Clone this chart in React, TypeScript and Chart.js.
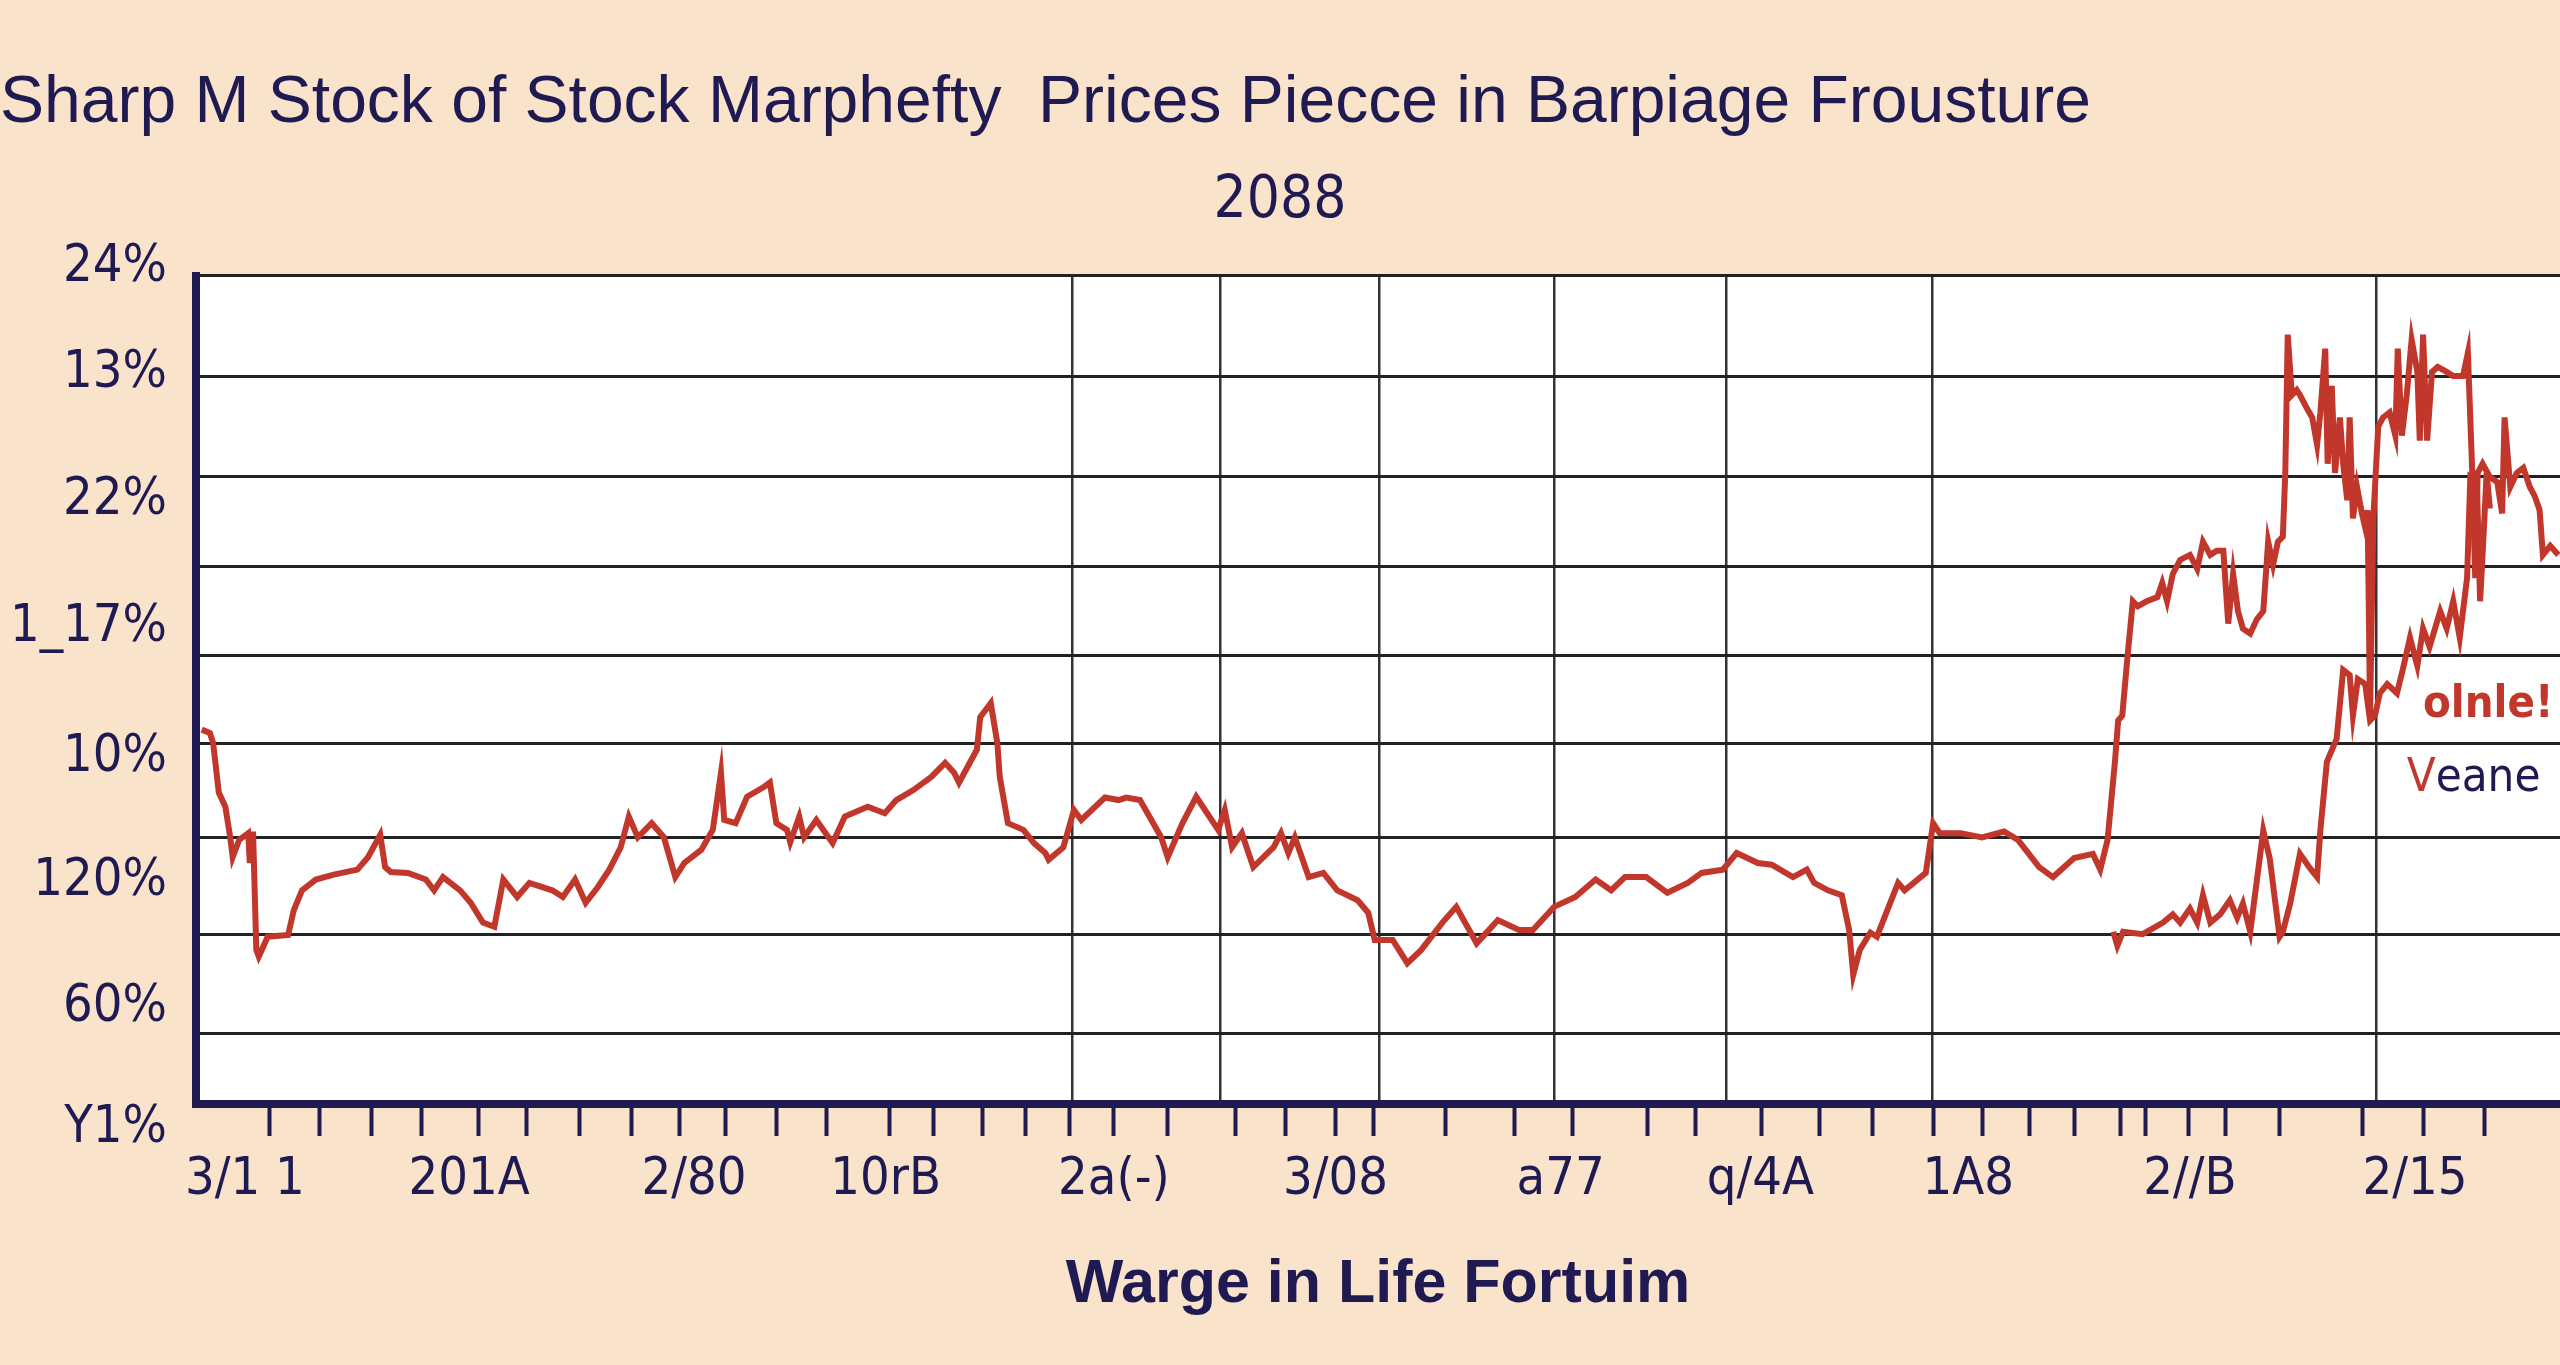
import React, { useEffect, useRef } from "react";
import { Chart, registerables } from "chart.js";

Chart.register(...registerables);

// ---------- text ----------
const TITLE = "Sharp M Stock of Stock Marphefty  Prices Piecce in Barpiage Frousture";
const SUBTITLE = "2088";
const X_TITLE = "Warge in Life Fortuim";

// ---------- y axis ----------
const Y_LABELS = ["24%", "13%", "22%", "1_17%", "10%", "120%", "60%", "Y1%"];
const Y_LABEL_VALUES = [101.0, 88.2, 72.9, 57.5, 41.8, 26.9, 11.6, -2.9];
const Y_GRID_VALUES = [100, 87.8, 75.8, 64.9, 54.2, 43.5, 32.2, 20.5, 8.5];

// ---------- x axis ----------
const X_LABELS = ["3/1 1", "201A", "2/80", "10rB", "2a(-)", "3/08", "a77", "q/4A", "1A8", "2//B", "2/15"];
const X_LABEL_DAYS = [6.0, 33.5, 61.1, 84.6, 112.6, 139.8, 167.4, 191.9, 217.4, 244.6, 272.2];
const X_TICK_DAYS = [
  9.0, 15.2, 21.5, 27.7, 34.6, 40.5, 47.0, 53.4, 59.3, 64.9,
  71.2, 77.3, 85.1, 90.5, 96.5, 101.8, 107.1, 112.6, 119.2, 127.5,
  133.7, 139.8, 144.4, 153.3, 161.8, 168.8, 178.1, 184.0, 192.1, 199.2,
  205.7, 213.2, 219.2, 224.9, 230.5, 236.1, 239.2, 244.4, 249.0, 255.6,
  265.8, 273.3, 280.7,
];
const X_GRID_DAYS = [107.5, 125.6, 145.2, 166.6, 187.7, 213.0, 267.4];
const X_MIN = 0;
const X_MAX = 290;

// ---------- series: price (main line) ----------
const MAIN_DAYS = [
  0.7, 1.7, 2.1, 2.8, 3.6, 4.2, 4.5, 5.3, 6.4, 6.6,
  7.0, 7.4, 7.7, 8.8, 11.3, 12.0, 13.0, 14.7, 16.9, 19.8,
  21.1, 22.6, 23.2, 23.9, 26.0, 28.2, 29.2, 30.3, 32.4, 33.7,
  35.2, 36.6, 37.7, 39.4, 40.9, 43.7, 45.0, 46.5, 47.8, 49.3,
  50.7, 52.1, 53.1, 54.2, 55.9, 57.4, 58.8, 59.9, 62.0, 63.4,
  64.4, 64.8, 66.2, 67.6, 69.7, 70.4, 71.2, 72.5, 72.9, 74.0,
  74.6, 76.1, 78.1, 79.6, 82.4, 84.5, 85.9, 88.0, 90.2, 91.9,
  93.0, 93.6, 95.8, 96.2, 97.5, 98.3, 98.6, 99.6, 101.5, 102.8,
  104.2, 104.6, 106.4, 107.7, 108.6, 111.5, 113.2, 114.1, 115.8, 118.4,
  119.2, 121.0, 122.7, 125.4, 126.2, 127.1, 128.3, 129.7, 132.2, 133.1,
  134.0, 134.8, 136.5, 138.3, 140.0, 142.5, 143.8, 144.6, 146.8, 148.6,
  150.3, 152.9, 154.6, 157.1, 159.7, 162.3, 164.0, 166.6, 169.2, 171.7,
  173.6, 175.3, 177.9, 180.5, 183.0, 184.7, 187.3, 189.0, 191.6, 193.3,
  195.9, 197.6, 198.5, 200.2, 201.9, 202.8, 203.3, 204.1, 205.4, 206.2,
  208.8, 209.6, 212.2, 213.1, 213.9, 216.5, 219.1, 221.8, 223.5, 226.1,
  227.8, 230.4, 232.7, 233.6, 234.5, 235.4, 235.8, 236.3, 237.0, 237.6,
  238.2, 239.3, 240.6, 241.2, 241.8, 242.5, 243.4, 244.6, 245.5, 246.2,
  247.1, 247.9, 248.7, 249.3, 249.9, 250.5, 251.1, 252.0, 252.8, 253.6,
  254.2, 254.8, 255.4, 256.0, 256.3, 256.6, 257.1, 257.7, 258.1, 259.0,
  259.6, 260.2, 260.6, 261.2, 261.5, 262.0, 262.4, 263.0, 263.4, 263.9,
  264.2, 264.6, 265.1, 265.7, 266.1, 266.4, 266.7, 267.1, 267.7, 268.3,
  269.1, 269.8, 270.1, 270.6, 271.2, 271.8, 272.5, 272.8, 273.2, 273.7,
  274.3, 275.0, 276.1, 276.9, 278.1, 278.7, 279.2, 279.6, 279.9, 280.5,
  281.4, 282.3, 282.9, 283.2, 283.9, 284.7, 285.5, 286.3, 286.9, 287.5,
  287.9, 288.8, 289.8,
];
const MAIN_VALUES = [
  45.2, 44.8, 43.6, 37.6, 35.9, 32.2, 29.8, 31.9, 32.7, 29.1,
  32.9, 18.6, 17.8, 20.2, 20.4, 23.4, 25.8, 27.1, 27.7, 28.3,
  29.8, 32.5, 28.6, 28.0, 27.9, 27.1, 25.8, 27.4, 25.8, 24.3,
  21.9, 21.4, 27.1, 25.0, 26.7, 25.8, 25.0, 27.1, 24.3, 26.2,
  28.3, 31.0, 34.7, 32.2, 33.9, 32.2, 27.4, 29.1, 30.7, 33.1,
  40.0, 34.3, 33.9, 37.1, 38.3, 38.8, 33.9, 33.1, 31.6, 34.7,
  32.2, 34.3, 31.5, 34.7, 35.9, 35.1, 36.7, 37.9, 39.5, 41.2,
  40.0, 38.8, 42.8, 46.7, 48.4, 43.6, 39.5, 33.9, 33.1, 31.5,
  30.3, 29.5, 31.0, 35.5, 34.3, 37.0, 36.7, 37.0, 36.7, 32.2,
  29.8, 33.9, 37.1, 33.1, 35.5, 31.0, 32.7, 28.6, 31.0, 32.7,
  30.3, 32.2, 27.4, 27.9, 25.8, 24.6, 23.1, 19.8, 19.8, 17.0,
  18.6, 21.9, 23.8, 19.4, 22.2, 21.0, 21.0, 23.8, 25.0, 27.1,
  25.8, 27.4, 27.4, 25.5, 26.7, 27.9, 28.3, 30.3, 29.1, 28.9,
  27.4, 28.3, 26.7, 25.8, 25.2, 21.0, 15.6, 18.6, 20.7, 20.2,
  26.7, 25.8, 27.9, 33.9, 32.7, 32.7, 32.2, 32.9, 31.9, 28.6,
  27.4, 29.7, 30.2, 28.3, 31.9, 41.3, 46.3, 46.9, 54.6, 60.7,
  60.1, 60.7, 61.2, 62.9, 60.7, 64.0, 65.7, 66.3, 64.6, 67.9,
  66.3, 66.8, 66.8, 58.0, 64.0, 59.5, 57.4, 56.8, 58.5, 59.5,
  67.9, 65.1, 67.9, 68.5, 76.2, 92.9, 85.6, 86.2, 85.6, 83.9,
  82.9, 79.6, 83.5, 91.2, 77.3, 86.7, 76.2, 82.9, 77.3, 72.9,
  82.9, 70.7, 74.5, 71.3, 69.6, 71.7, 46.9, 70.7, 81.8, 82.9,
  83.5, 80.7, 91.2, 80.7, 85.6, 92.3, 88.4, 80.1, 92.9, 80.1,
  88.4, 89.0, 88.4, 87.9, 87.9, 90.7, 77.3, 63.5, 76.2, 77.3,
  75.7, 75.1, 71.3, 82.9, 74.5, 76.2, 76.8, 74.5, 73.4, 71.7,
  66.3, 67.4, 66.3,
];

// ---------- series: volume (lower line) ----------
const LOWER_DAYS = [
  235.2, 235.7, 236.4, 238.8, 241.3, 242.5, 243.4, 244.6, 245.5, 246.2,
  247.1, 248.3, 249.5, 250.4, 251.1, 252.0, 253.6, 254.4, 255.6, 256.0,
  256.9, 258.1, 259.3, 260.2, 260.6, 261.4, 262.6, 263.4, 264.2, 264.6,
  265.2, 266.1, 266.7, 267.3, 267.9, 268.8, 270.0, 270.7, 271.6, 272.5,
  273.2, 274.0, 275.3, 276.1, 276.9, 277.7, 278.6, 279.0, 279.8, 280.2,
  280.5, 281.0, 281.4,
];
const LOWER_VALUES = [
  20.8, 19.1, 20.8, 20.5, 21.9, 22.9, 21.9, 23.6, 21.9, 25.2,
  21.9, 22.9, 24.6, 22.5, 24.2, 20.8, 33.0, 29.6, 20.2, 20.8,
  24.2, 30.2, 28.5, 27.4, 33.0, 41.3, 44.1, 52.4, 51.8, 46.9,
  51.3, 50.7, 46.3, 46.9, 49.6, 50.7, 49.6, 52.4, 56.3, 52.9,
  57.4, 55.2, 59.5, 57.4, 60.7, 56.3, 63.5, 75.7, 75.1, 60.7,
  66.3, 76.2, 71.9,
];

// ---------- styling ----------
const NAVY = "#201a52";
const RED = "#c2372c";
const BG = "#f9e3cb";
const NARROW = "'DejaVu Sans Condensed', 'Liberation Sans', sans-serif";
const SANS = "'Liberation Sans', Arial, sans-serif";

const LEGEND_ITEMS = [
  { day: 273.2, value: 48.1, font: `bold 45px ${NARROW}`, parts: [{ text: "olnle!", color: RED }] },
  {
    day: 271.2,
    value: 39.3,
    font: `47px ${NARROW}`,
    parts: [
      { text: "V", color: RED },
      { text: "eane", color: NAVY },
    ],
  },
];

const backgroundPlugin = {
  id: "plotBackground",
  beforeDraw(chart: any) {
    const { ctx, chartArea, width, height } = chart;
    ctx.save();
    ctx.fillStyle = BG;
    ctx.fillRect(0, 0, width, height);
    ctx.fillStyle = "#ffffff";
    ctx.fillRect(chartArea.left, chartArea.top, chartArea.right - chartArea.left, chartArea.bottom - chartArea.top);
    ctx.restore();
  },
};

const inlineLegendPlugin = {
  id: "inlineLegend",
  afterDatasetsDraw(chart: any) {
    const { ctx, scales } = chart;
    const xs = scales.x;
    const ys = scales.y;
    ctx.save();
    ctx.textBaseline = "middle";
    ctx.textAlign = "left";
    for (const item of LEGEND_ITEMS) {
      let px = xs.getPixelForValue(item.day);
      const py = ys.getPixelForValue(item.value);
      ctx.font = item.font;
      for (const part of item.parts) {
        ctx.fillStyle = part.color;
        ctx.fillText(part.text, px, py);
        px += ctx.measureText(part.text).width;
      }
    }
    ctx.restore();
  },
};

export default function App() {
  const canvasRef = useRef<HTMLCanvasElement | null>(null);

  useEffect(() => {
    document.body.style.margin = "0";
    document.body.style.background = BG;
    document.body.style.overflow = "hidden";
    const canvas = canvasRef.current;
    if (!canvas) return;

    const chart = new Chart(canvas, {
      type: "line",
      data: {
        datasets: [
          {
            label: "Price",
            data: MAIN_DAYS.map((d, i) => ({ x: d, y: MAIN_VALUES[i] })),
            borderColor: RED,
            backgroundColor: RED,
            borderWidth: 6,
            pointRadius: 0,
            tension: 0,
            xAxisID: "x",
            yAxisID: "y",
          },
          {
            label: "Volume",
            data: LOWER_DAYS.map((d, i) => ({ x: d, y: LOWER_VALUES[i] })),
            borderColor: RED,
            backgroundColor: RED,
            borderWidth: 6,
            pointRadius: 0,
            tension: 0,
            xAxisID: "x",
            yAxisID: "y",
          },
        ],
      },
      options: {
        responsive: false,
        animation: false,
        devicePixelRatio: 1,
        layout: { padding: 0 },
        plugins: {
          legend: { display: false },
          tooltip: { enabled: false },
          title: {
            display: true,
            text: TITLE,
            align: "start",
            color: NAVY,
            font: { family: SANS, size: 66, weight: "normal", lineHeight: 1.2 },
            padding: { top: 64, bottom: 0 },
          },
          subtitle: {
            display: true,
            text: SUBTITLE,
            align: "center",
            color: NAVY,
            font: { family: NARROW, size: 58, weight: "normal", lineHeight: 1.2 },
            padding: { top: 24, bottom: 39 },
          },
        },
        scales: {
          // axis line + tick marks
          x: {
            type: "linear",
            position: "bottom",
            min: X_MIN,
            max: X_MAX,
            weight: 0,
            afterBuildTicks: (s: any) => {
              s.ticks = X_TICK_DAYS.map((v) => ({ value: v }));
            },
            afterFit: (s: any) => {
              s.height = 0;
            },
            grid: {
              display: true,
              drawOnChartArea: false,
              drawTicks: true,
              tickLength: 32,
              tickWidth: 4,
              tickColor: NAVY,
              color: NAVY,
            },
            border: { display: true, color: NAVY, width: 8 },
            ticks: { display: false },
          },
          // vertical grid lines
          xg: {
            type: "linear",
            position: "bottom",
            min: X_MIN,
            max: X_MAX,
            weight: 0,
            afterBuildTicks: (s: any) => {
              s.ticks = X_GRID_DAYS.map((v) => ({ value: v }));
            },
            afterFit: (s: any) => {
              s.height = 0;
            },
            grid: { display: true, drawOnChartArea: true, drawTicks: false, color: "#333333", lineWidth: 2.5 },
            border: { display: false },
            ticks: { display: false },
          },
          // tick labels + axis title
          xl: {
            type: "linear",
            position: "bottom",
            min: X_MIN,
            max: X_MAX,
            weight: 10,
            afterBuildTicks: (s: any) => {
              s.ticks = X_LABEL_DAYS.map((v) => ({ value: v }));
            },
            afterFit: (s: any) => {
              s.height = 261;
            },
            grid: { display: false, drawTicks: false },
            border: { display: false },
            ticks: {
              autoSkip: false,
              maxRotation: 0,
              minRotation: 0,
              padding: 45,
              color: NAVY,
              font: { family: NARROW, size: 52, lineHeight: 1.2 },
              callback: (_v: any, i: number) => X_LABELS[i],
            },
            title: {
              display: true,
              text: X_TITLE,
              color: NAVY,
              font: { family: SANS, size: 61, weight: "bold", lineHeight: 1.2 },
              padding: { top: 0, bottom: 43 },
            },
          },
          // y labels + axis line
          y: {
            type: "linear",
            position: "left",
            min: 0,
            max: 100,
            weight: 1,
            afterBuildTicks: (s: any) => {
              s.ticks = Y_LABEL_VALUES.map((v) => ({ value: v }));
            },
            afterFit: (s: any) => {
              s.width = 196;
            },
            grid: { display: false, drawTicks: false },
            border: { display: true, color: NAVY, width: 8 },
            ticks: {
              autoSkip: false,
              padding: 29,
              color: NAVY,
              font: { family: NARROW, size: 52, lineHeight: 1.2 },
              callback: (_v: any, i: number) => Y_LABELS[i],
            },
          },
          // horizontal grid lines
          yg: {
            type: "linear",
            position: "left",
            min: 0,
            max: 100,
            weight: 0,
            afterBuildTicks: (s: any) => {
              s.ticks = Y_GRID_VALUES.map((v) => ({ value: v }));
            },
            afterFit: (s: any) => {
              s.width = 0;
            },
            grid: { display: true, drawOnChartArea: true, drawTicks: false, color: "#222222", lineWidth: 3 },
            border: { display: false },
            ticks: { display: false },
          },
        },
      } as any,
      plugins: [backgroundPlugin, inlineLegendPlugin],
    });

    return () => chart.destroy();
  }, []);

  return <canvas ref={canvasRef} width={2560} height={1365} style={{ display: "block" }} />;
}
